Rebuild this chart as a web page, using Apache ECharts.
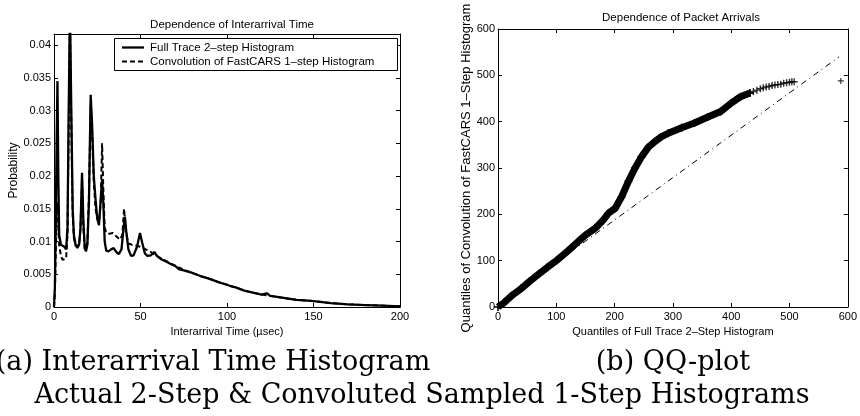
<!DOCTYPE html>
<html>
<head>
<meta charset="utf-8">
<script src="https://cdn.jsdelivr.net/npm/echarts@6/dist/echarts.min.js"></script>
<style>html,body{margin:0;padding:0;background:#fff;}#c{width:860px;height:416px;}</style>
</head>
<body>
<div id="c"></div>
<script>
// ---- Panel (a): interarrival time histogram ----
const fullX = [0,0.5,1,1.5,2,2.5,3,4,5,6,7,7.8,8.5,9.2,10,10.8,11.5,12.5,13.5,14.5,15.3,16.2,17,17.8,18.5,19.3,20.2,21.2,22,23,24,25,26,27,27.8,28.5,29.3,30.2,31.5,33,34.5,36,37.5,39,40.2,41,41.8,43,44.5,46,48,49.7,51,52.5,54,56,58,59.5,62,65,68,70,72,75,80,85,90,95,100,103,105,110,115,120,123,125,130,140,145,150,160,170,180,190,200];
const fullY = [0,0.003,0.012,0.025,0.0345,0.02,0.011,0.0095,0.0098,0.0092,0.0088,0.012,0.03,0.046,0.03,0.015,0.011,0.0095,0.009,0.0095,0.012,0.0205,0.013,0.009,0.0085,0.0095,0.016,0.0324,0.028,0.02,0.0165,0.0135,0.0125,0.0122,0.0195,0.016,0.01,0.0086,0.0085,0.0088,0.009,0.0084,0.0081,0.0088,0.012,0.0138,0.0115,0.0088,0.0078,0.0079,0.0092,0.0113,0.0098,0.0082,0.0078,0.0079,0.0084,0.0078,0.0073,0.0069,0.0065,0.0063,0.0058,0.0056,0.0052,0.0047,0.0043,0.0038,0.0034,0.0031,0.003,0.0025,0.0022,0.0019,0.0021,0.0017,0.0015,0.0011,0.001,0.0009,0.0006,0.0004,0.0003,0.0002,0.0001];
const convX = [0,0.5,1,1.5,2,2.5,3,4,5,6,7,7.8,8.5,9.2,10,10.8,11.5,12.5,13.5,14.5,15.3,16.2,17,17.8,18.5,19.3,20.2,21.2,22,23,24,25,26,27,27.8,28.5,29.3,30.5,32,34,36,38,39.5,40.5,41.5,43,45,47,50,53,56,60,65,70,75,80,85,90,95,100,105,110,115,120,125,130,140,150,160,170,180,190,200];
const convY = [0,0.002,0.008,0.014,0.016,0.012,0.0095,0.0078,0.0072,0.0072,0.0074,0.011,0.028,0.044,0.028,0.014,0.0105,0.0093,0.009,0.0095,0.012,0.0195,0.012,0.0088,0.0085,0.0098,0.017,0.031,0.027,0.019,0.015,0.0135,0.013,0.016,0.025,0.018,0.012,0.0113,0.0112,0.0113,0.0108,0.0103,0.011,0.015,0.0115,0.0097,0.0095,0.0094,0.0092,0.0088,0.0084,0.0077,0.007,0.0063,0.0057,0.0052,0.0047,0.0043,0.0038,0.0034,0.003,0.0025,0.0022,0.0019,0.0017,0.0015,0.0011,0.0009,0.0006,0.0004,0.0003,0.0002,0.0001];
const aXTicks = [0, 200, 50];       // min, max, interval
const aYTicks = [0, 0.0417, 0.005];

// ---- Panel (b): QQ-plot ----
const qqX = [0,10,25,40,54,70,85,101,120,139,150,167,180,190,201,212,224,235,246,258,269,280,292,315,337,360,382,400,416,432];
const qqY = [0,9,26,40,55,71,86,101,121,143,155,170,187,203,213,238,272,300,324,345,357,367,375,387,397,410,422,440,454,462];
const tailX = [432,438,444,450,455,460,465,470,475,480,485,490,495,500,504,508];
const tailY = [462,465,468,471,473,475,476,478,479,480,481,483,484,485,486,486];
const outX = [588];
const outY = [488];
const refX = [0, 585];
const refY = [5, 540];
const bTicks = [0, 600, 100];

const titleA = 'Dependence of Interarrival Time';
const titleB = 'Dependence of Packet Arrivals';
const legendNames = ['Full Trace 2\u2013step Histogram', 'Convolution of FastCARS 1\u2013step Histogram'];
const captionA = '(a) Interarrival Time Histogram';
const captionB = '(b) QQ-plot';
const captionMain = 'Actual 2-Step & Convoluted Sampled 1-Step Histograms';

const zip = (xs, ys) => xs.map((x, i) => [x, ys[i]]);
const FONT = '"Liberation Sans", Arial, sans-serif';
const lbl = { fontFamily: FONT, fontSize: 11, color: '#000' };
const axLine = { show: true, onZero: false, lineStyle: { color: '#000', width: 1 } };
const tick = { show: true, inside: true, length: 4, lineStyle: { color: '#000' } };
const PLUS = 'path://M4,0H6V4H10V6H6V10H4V6H0V4H4Z';

function xAx(grid, t, pos, name, showLabels) {
  return {
    type: 'value', gridIndex: grid, position: pos, min: t[0], max: t[1], interval: t[2],
    axisLine: axLine, axisTick: tick, splitLine: { show: false },
    axisLabel: Object.assign({ show: showLabels, margin: 4, showMaxLabel: true }, lbl),
    name: name, nameLocation: 'middle', nameGap: 14,
    nameTextStyle: { fontFamily: FONT, fontSize: 11, color: '#000' }
  };
}
function yAx(grid, t, pos, name, showLabels, gap, nameSize) {
  return {
    type: 'value', gridIndex: grid, position: pos, min: t[0], max: t[1], interval: t[2],
    axisLine: axLine, axisTick: tick, splitLine: { show: false },
    axisLabel: Object.assign({ show: showLabels, margin: 3, showMaxLabel: grid === 1 }, lbl),
    name: name, nameLocation: 'middle', nameGap: gap || 20,
    nameTextStyle: { fontFamily: FONT, fontSize: nameSize || 12, color: '#000' }
  };
}

const chart = echarts.init(document.getElementById('c'), null, { renderer: 'canvas' });
chart.setOption({
  backgroundColor: '#fff',
  animation: false,
  title: [
    { text: titleA, left: 227, top: 14, textAlign: 'center',
      textStyle: { fontFamily: FONT, fontSize: 11.5, fontWeight: 'normal', color: '#000' } },
    { text: titleB, left: 676, top: 7, textAlign: 'center',
      textStyle: { fontFamily: FONT, fontSize: 11.5, fontWeight: 'normal', color: '#000' } }
  ],
  grid: [
    { left: 54, top: 34, width: 346, height: 273 },
    { left: 498, top: 29, width: 354, height: 278 }
  ],
  xAxis: [
    xAx(0, aXTicks, 'bottom', 'Interarrival Time (\u00b5sec)', true),
    xAx(0, aXTicks, 'top', '', false),
    xAx(1, bTicks, 'bottom', 'Quantiles of Full Trace 2\u2013Step Histogram', true),
    xAx(1, bTicks, 'top', '', false)
  ],
  yAxis: [
    yAx(0, aYTicks, 'left', 'Probability', true, 29, 12),
    yAx(0, aYTicks, 'right', '', false),
    yAx(1, bTicks, 'left', 'Quantiles of Convolution of FastCARS 1\u2013Step Histogram', true, 24, 13),
    yAx(1, bTicks, 'right', '', false)
  ],
  series: [
    { name: legendNames[1], type: 'line', xAxisIndex: 0, yAxisIndex: 0, data: zip(convX, convY),
      showSymbol: false, symbol: 'none', clip: true,
      lineStyle: { color: '#000', width: 2, type: [5, 3] } },
    { name: legendNames[0], type: 'line', xAxisIndex: 0, yAxisIndex: 0, data: zip(fullX, fullY),
      showSymbol: false, symbol: 'none', clip: true,
      lineStyle: { color: '#000', width: 2.3 } },
    { type: 'line', xAxisIndex: 2, yAxisIndex: 2, data: zip(refX, refY), symbol: 'none',
      lineStyle: { color: '#000', width: 1, type: [6, 4, 1, 4] } },
    { type: 'line', xAxisIndex: 2, yAxisIndex: 2, data: zip(qqX, qqY),
      symbol: PLUS, symbolSize: 8, showSymbol: true,
      lineStyle: { color: '#000', width: 7 }, itemStyle: { color: '#000' } },
    { type: 'scatter', xAxisIndex: 2, yAxisIndex: 2, data: zip(tailX, tailY),
      symbol: PLUS, symbolSize: 7, itemStyle: { color: '#000' } },
    { type: 'scatter', xAxisIndex: 2, yAxisIndex: 2, data: zip(outX, outY),
      symbol: PLUS, symbolSize: 6, itemStyle: { color: '#000' } }
  ],
  graphic: [
    // legend box for panel (a)
    { type: 'rect', shape: { x: 114.5, y: 38.5, width: 283, height: 32 }, style: { fill: '#fff', stroke: '#000', lineWidth: 1 }, z: 100 },
    { type: 'line', shape: { x1: 122, y1: 47.5, x2: 144, y2: 47.5 }, style: { stroke: '#000', lineWidth: 2.3 }, z: 101 },
    { type: 'line', shape: { x1: 122, y1: 61.5, x2: 144, y2: 61.5 }, style: { stroke: '#000', lineWidth: 2, lineDash: [5, 3] }, z: 101 },
    { type: 'text', x: 150, y: 47.5, z: 101, style: { text: legendNames[0], font: '11.5px "Liberation Sans"', fill: '#000', textVerticalAlign: 'middle' } },
    { type: 'text', x: 150, y: 61.5, z: 101, style: { text: legendNames[1], font: '11.5px "Liberation Sans"', fill: '#000', textVerticalAlign: 'middle' } },
    // captions
    { type: 'text', x: 213, y: 363, style: { text: captionA, font: '27px "DejaVu Serif"', fill: '#000', textAlign: 'center', textVerticalAlign: 'middle' } },
    { type: 'text', x: 673, y: 363, style: { text: captionB, font: '27px "DejaVu Serif"', fill: '#000', textAlign: 'center', textVerticalAlign: 'middle' } },
    { type: 'text', x: 422, y: 396, style: { text: captionMain, font: '27px "DejaVu Serif"', fill: '#000', textAlign: 'center', textVerticalAlign: 'middle' } }
  ]
});
</script>
</body>
</html>
